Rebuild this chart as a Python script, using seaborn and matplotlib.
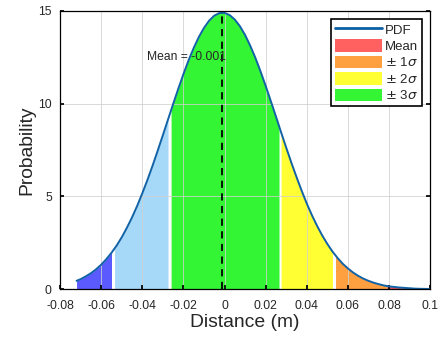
import numpy as np
import matplotlib
matplotlib.use("Agg")
import matplotlib.pyplot as plt
import seaborn as sns
from matplotlib.patches import Patch
from matplotlib.lines import Line2D

# PDF curve
dist = [-0.072, -0.07, -0.0675, -0.065, -0.0625, -0.06, -0.0575, -0.055, -0.0525,
        -0.05, -0.0475, -0.045, -0.0425, -0.04, -0.0375, -0.035, -0.0325, -0.03,
        -0.0275, -0.025, -0.0225, -0.02, -0.0175, -0.015, -0.0125, -0.01, -0.0075,
        -0.005, -0.0025, 0.0, 0.0025, 0.005, 0.0075, 0.01, 0.0125, 0.015, 0.0175,
        0.02, 0.0225, 0.025, 0.0275, 0.03, 0.0325, 0.035, 0.0375, 0.04, 0.0425,
        0.045, 0.0475, 0.05, 0.0525, 0.055, 0.0575, 0.06, 0.0625, 0.065, 0.0675,
        0.07, 0.0725, 0.075, 0.0775, 0.08, 0.0825, 0.085, 0.0875, 0.09, 0.0925,
        0.095, 0.0975, 0.1]
prob = [0.45, 0.54, 0.69, 0.86, 1.07, 1.32, 1.62, 1.96, 2.35,
        2.80, 3.31, 3.87, 4.49, 5.17, 5.89, 6.66, 7.47, 8.30,
        9.14, 9.98, 10.80, 11.59, 12.33, 13.00, 13.59, 14.08, 14.47,
        14.74, 14.88, 14.89, 14.77, 14.53, 14.17, 13.70, 13.12, 12.47, 11.74,
        10.96, 10.14, 9.31, 8.46, 7.63, 6.82, 6.05, 5.31, 4.62, 3.99,
        3.42, 2.90, 2.44, 2.03, 1.68, 1.37, 1.12, 0.90, 0.72, 0.57,
        0.45, 0.35, 0.27, 0.20, 0.15, 0.12, 0.09, 0.07, 0.05, 0.03,
        0.02, 0.015, 0.01]

mean_val = -0.001

# shaded bands (start, end, colour)
band_lo = [-0.072, -0.0535, -0.026, 0.0275, 0.0540, 0.079]
band_hi = [-0.0550, -0.0275, 0.0265, 0.0525, 0.079, 0.1]
band_col = ["#5a5aff", "#a6d8f7", "#33f533", "#ffff33", "#ffa040", "#e8505a"]

legend_labels = ["PDF", "Mean", r"$\pm$ 1$\sigma$", r"$\pm$ 2$\sigma$", r"$\pm$ 3$\sigma$"]
legend_cols = ["#0b5fa5", "#ff6060", "#ffa040", "#ffff33", "#33f533"]

sns.set_theme(style="whitegrid")
plt.rcParams["font.family"] = ["Liberation Sans", "DejaVu Sans"]
plt.rcParams["axes.unicode_minus"] = False

fig = plt.figure(figsize=(4.42, 3.39), dpi=100)
ax = fig.add_axes([0.136, 0.147, 0.837, 0.821])

xs = np.array(dist)
ys = np.array(prob)
for lo, hi, c in zip(band_lo, band_hi, band_col):
    inner = xs[(xs > lo) & (xs < hi)]
    bx = np.concatenate([[lo], inner, [hi]])
    by = np.interp(bx, xs, ys)
    ax.fill_between(bx, 0, by, color=c, linewidth=0, zorder=1)

sns.lineplot(x=dist, y=prob, ax=ax, color="#1162a6", linewidth=1.4, zorder=3)

peak = np.interp(mean_val, xs, ys)
ax.plot([mean_val, mean_val], [0, peak], color="black", linestyle=(0, (4, 3)),
        linewidth=1.3, zorder=4)
ax.text(-0.0375, 12.5, "Mean = -0.001", fontsize=8.7, va="center", ha="left", zorder=5)

ax.set_xlim(-0.08, 0.1)
ax.set_ylim(0, 15)
ax.set_xticks(np.arange(-0.08, 0.101, 0.02))
ax.set_yticks([0, 5, 10, 15])
ax.xaxis.set_major_formatter(plt.FuncFormatter(lambda v, p: "%g" % round(v, 3)))
ax.tick_params(axis="both", labelsize=8.7, direction="in", length=3,
               color="black", top=False, right=True, left=True, bottom=True)
ax.tick_params(axis="x", pad=8)
ax.tick_params(axis="y", pad=6)
ax.grid(True, color="#d0d0d0", linewidth=0.7, alpha=0.8, zorder=2)
ax.set_axisbelow(False)
for s in ax.spines.values():
    s.set_color("black")
    s.set_linewidth(0.9)
    s.set_zorder(6)
ax.set_facecolor("white")

ax.set_xlabel("Distance (m)", fontsize=13.9, labelpad=1)
ax.set_ylabel("Probability", fontsize=13.9, labelpad=2)

handles = [Line2D([0], [0], color=legend_cols[0], linewidth=2)]
handles += [Patch(facecolor=c, edgecolor="none") for c in legend_cols[1:]]
leg = ax.legend(handles, legend_labels, loc="upper right", fontsize=9.5,
                frameon=True, fancybox=False, framealpha=1, edgecolor="black",
                borderpad=0.3, labelspacing=0.2, handlelength=3.6,
                handleheight=1.1, handletextpad=0.2, borderaxespad=0.6)
leg.get_frame().set_linewidth(1.2)
leg.set_zorder(10)

fig.savefig("out.png", dpi=100)
